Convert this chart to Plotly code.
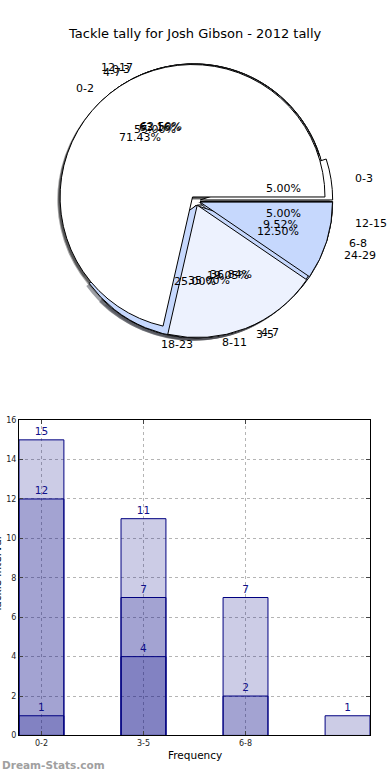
import math
import plotly.graph_objects as go

TITLE = "Tackle tally for Josh Gibson - 2012 tally"

# ---- pie data (four overlaid tallies) ----
pieA_labels = ["0-2", "3-5", "6-8"]
pieA_values = [15, 4, 2]
pieB_labels = ["0-3", "4-7", "8-11", "12-15"]
pieB_values = [1, 11, 7, 1]
pieC_labels = ["12-17", "18-23", "24-29"]
pieC_values = [5, 2, 1]
pieD_labels = ["0-3", "4-7"]
pieD_values = [12, 7]

# ---- bar data (overlaid series) ----
bar_categories = ["0-2", "3-5", "6-8", "9-11"]
bar_tick_labels = ["0-2", "3-5", "6-8"]
bars_light = [15, 11, 7, 1]
bars_mid = [12, 7, 2]
bars_dark = [1, 4]

# ---- styling / layout constants ----
W, H = 390, 780
FONT = "DejaVu Sans"
PIE_CX, PIE_CY = 195.5, 199.0
PIE_R = 134.0
TEXT_RX, TEXT_RY = 140.0, 128.0
EXPLODE = 0.036
SHADOW = 2.8
PIE_COLORS = [(255, 255, 255), (237, 242, 254), (198, 216, 253)]


def px_x(x):
    return x / W


def px_y(y):
    return 1 - y / H


def pie_trace(labels, values, cx, cy, shadow=False):
    h = PIE_R * (1 + EXPLODE)
    cols = [PIE_COLORS[i % len(PIE_COLORS)] for i in range(len(values))]
    if shadow:
        colors = ["rgba(%d,%d,%d,0.5)" % (c[0] * 0.3, c[1] * 0.3, c[2] * 0.3) for c in cols]
        line = dict(width=0)
    else:
        colors = ["rgb(%d,%d,%d)" % c for c in cols]
        line = dict(color="black", width=1)
    # plotly's counterclockwise pies put the first slice clockwise of `rotation`;
    # shift so the first slice starts at 3 o'clock and runs counterclockwise
    rot = 90 - 360.0 * values[0] / sum(values)
    return go.Pie(
        labels=labels, values=values, sort=False, direction="counterclockwise",
        rotation=rot, pull=[EXPLODE] * len(values), textinfo="none",
        hoverinfo="skip", showlegend=False,
        marker=dict(colors=colors, line=line),
        domain=dict(x=[px_x(cx - h), px_x(cx + h)], y=[px_y(cy + h), px_y(cy - h)]),
    )


pies = [(pieD_labels, pieD_values), (pieC_labels, pieC_values),
        (pieB_labels, pieB_values), (pieA_labels, pieA_values)]

fig = go.Figure()
for labels, values in pies:
    fig.add_trace(pie_trace(labels, values, PIE_CX - SHADOW, PIE_CY + SHADOW, shadow=True))
for labels, values in pies:
    fig.add_trace(pie_trace(labels, values, PIE_CX, PIE_CY))

annotations = []
for labels, values in pies:
    total = float(sum(values))
    cum = 0.0
    for lab, v in zip(labels, values):
        t1 = cum / total * 2 * math.pi
        cum += v
        t2 = cum / total * 2 * math.pi
        tm = 0.5 * (t1 + t2)
        c, s = math.cos(tm), math.sin(tm)
        lf = EXPLODE + 1.1
        xt = c * lf
        annotations.append(dict(
            x=px_x(PIE_CX + c * lf * TEXT_RX), y=px_y(PIE_CY - s * lf * TEXT_RY),
            xref="paper", yref="paper", text=lab, showarrow=False,
            xanchor="left" if xt > 0 else "right", yanchor="middle",
            font=dict(size=11, color="black")))
        pf = EXPLODE + 0.6
        annotations.append(dict(
            x=px_x(PIE_CX + c * pf * TEXT_RX), y=px_y(PIE_CY - s * pf * TEXT_RY),
            xref="paper", yref="paper", text="%.2f%%" % (v / total * 100),
            showarrow=False, xanchor="center", yanchor="middle",
            font=dict(size=11, color="black")))

# ---- bars ----
for vals in (bars_light, bars_mid, bars_dark):
    fig.add_trace(go.Bar(
        x=list(range(len(vals))), y=vals, width=0.44,
        marker=dict(color="rgba(0,0,128,0.2)", line=dict(color="#000080", width=1)),
        text=[str(v) for v in vals], textposition="outside",
        textfont=dict(color="#10108a", size=10.5, family=FONT),
        cliponaxis=False, hoverinfo="skip", showlegend=False,
        xaxis="x", yaxis="y"))

axis_common = dict(
    showline=True, linecolor="black", linewidth=1, mirror="ticks",
    ticks="inside", ticklen=4, tickcolor="#444", tickwidth=1,
    showgrid=True, gridcolor="#b4b4b4", griddash="dot", gridwidth=1,
    zeroline=False, tickfont=dict(size=8, color="#222", family=FONT),
)

fig.update_layout(
    width=W, height=H, margin=dict(l=0, r=0, t=0, b=0),
    paper_bgcolor="white", plot_bgcolor="white",
    font=dict(family=FONT, color="black"),
    showlegend=False, barmode="overlay",
    xaxis=dict(domain=[px_x(19), px_x(370)], range=[-0.22, len(bar_categories) - 1 + 0.22],
               tickvals=list(range(len(bar_tick_labels))), ticktext=bar_tick_labels,
               **axis_common),
    yaxis=dict(domain=[px_y(740), px_y(421)], range=[0, 16], dtick=2, **axis_common),
    annotations=annotations + [
        dict(x=px_x(195), y=px_y(30), xref="paper", yref="paper", text=TITLE,
             showarrow=False, xanchor="center", yanchor="middle", font=dict(size=13)),
        dict(x=px_x(194.5), y=px_y(760), xref="paper", yref="paper", text="Frequency",
             showarrow=False, xanchor="center", yanchor="middle", font=dict(size=10.5)),
        dict(x=px_x(-3), y=px_y(578), xref="paper", yref="paper", text="Tackle Interval",
             textangle=-90, showarrow=False, xanchor="center", yanchor="middle",
             font=dict(size=10.5)),
        dict(x=0, y=px_y(770), xref="paper", yref="paper", text="<b>Dream-Stats.com</b>",
             showarrow=False, xanchor="left", yanchor="middle",
             font=dict(size=10.5, color="#a0a0a0")),
    ],
)

fig.write_html("out.html", config={"displayModeBar": False},
               post_script="document.body.style.margin='0';document.body.style.padding='0';")
